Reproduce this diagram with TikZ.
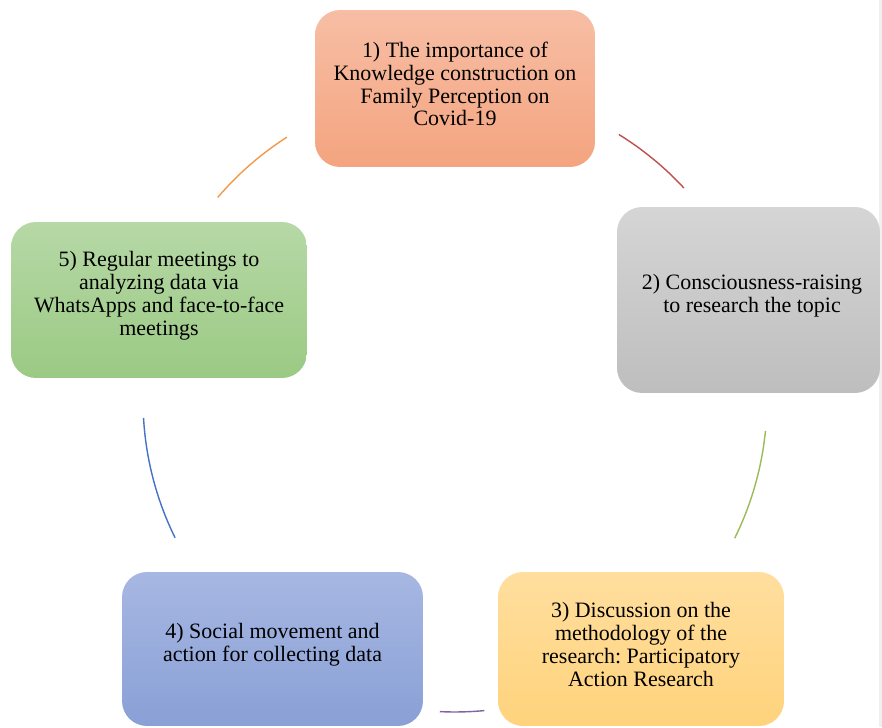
\documentclass[tikz,border=0pt]{standalone}
\usepackage{fontspec}
\setmainfont{Liberation Serif}
\usetikzlibrary{calc}

\definecolor{peachtop}{HTML}{F7BEA5}
\definecolor{peachbot}{HTML}{F4A47F}
\definecolor{greytop}{HTML}{D5D5D5}
\definecolor{greybot}{HTML}{BEBEBE}
\definecolor{sandtop}{HTML}{FFDE9E}
\definecolor{sandbot}{HTML}{FFD37C}
\definecolor{bluetop}{HTML}{A7B7E2}
\definecolor{bluebot}{HTML}{89A0D6}
\definecolor{leaftop}{HTML}{B6D8A6}
\definecolor{leafbot}{HTML}{9BCA84}

\begin{document}
\begin{tikzpicture}[x=0.02cm,y=0.02cm,
    stage/.style={rounded corners=0.5cm,inner sep=0pt},
    words/.style={align=center,yshift=2.5pt,
                  font=\fontsize{12.5}{13}\selectfont\frenchspacing},
    link/.style={line width=0.8pt}]
  \useasboundingbox (0,0) rectangle (882,727);
  \fill[gray!12] (879,0) rectangle (882,727);
  % the five stages
  \node[stage,top color=peachtop,bottom color=peachbot,minimum width=5.6cm,minimum height=3.14cm,
        label={[words]center:1) The importance of\\Knowledge construction on\\Family Perception on\\Covid-19}] (s1) at (455,638.5) {};
  \node[stage,top color=greytop,bottom color=greybot,minimum width=5.26cm,minimum height=3.72cm,
        label={[words,xshift=2pt]center:2) Consciousness-raising\\to research the topic}] (s2) at (748.5,427) {};
  \node[stage,top color=sandtop,bottom color=sandbot,minimum width=5.72cm,minimum height=3.08cm,
        label={[words]center:3) Discussion on the\\methodology of the\\research: Participatory\\Action Research}] (s3) at (641,78) {};
  \node[stage,top color=bluetop,bottom color=bluebot,minimum width=6.02cm,minimum height=3.08cm,
        label={[words]center:4) Social movement and\\action for collecting data}] (s4) at (272.5,78) {};
  \node[stage,top color=leaftop,bottom color=leafbot,minimum width=5.92cm,minimum height=3.12cm,
        label={[words]center:5) Regular meetings to\\analyzing data via\\WhatsApps and face-to-face\\meetings}] (s5) at (159,427) {};
  % the cycle
  \coordinate (hub) at (455,327);
  \draw[link,color={rgb,255:red,192;green,80;blue,77}] (hub) ++(58.3:312) arc[start angle=58.3,end angle=42.8,radius=312];
  \draw[link,color={rgb,255:red,155;green,187;blue,89}] (hub) ++(-5.7:312) arc[start angle=-5.7,end angle=-26.3,radius=312];
  \draw[link,color={rgb,255:red,128;green,100;blue,162}] (hub) ++(-84.6:312) arc[start angle=-84.6,end angle=-92.8,radius=312];
  \draw[link,color={rgb,255:red,68;green,114;blue,196}] (hub) ++(206.2:312) arc[start angle=206.2,end angle=183.3,radius=312];
  \draw[link,color={rgb,255:red,242;green,154;blue,74}] (hub) ++(139.5:312) arc[start angle=139.5,end angle=122.6,radius=312];
\end{tikzpicture}
\end{document}
